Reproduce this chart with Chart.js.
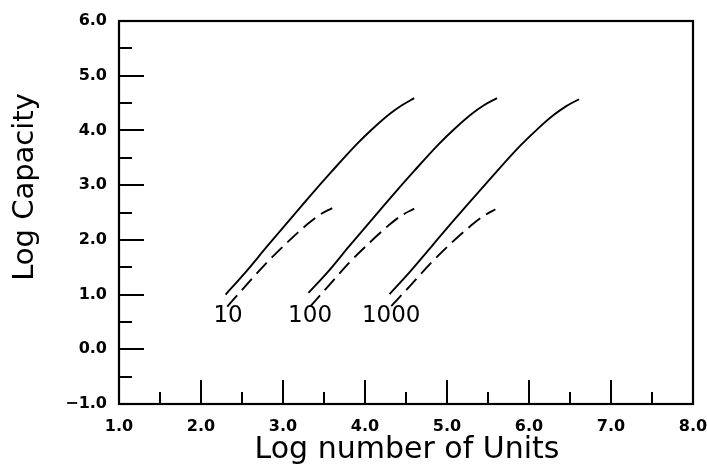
<!DOCTYPE html>
<html>
<head>
<meta charset="utf-8">
<style>
  html, body { margin: 0; padding: 0; background: #fff; }
  #chart { display: block; }
</style>
<script src="https://cdn.jsdelivr.net/npm/chart.js@4/dist/chart.umd.min.js"></script>
</head>
<body>
<canvas id="chart" width="707" height="467"></canvas>
<script>
// log number of units (x) and log capacity (y)
const solid10X = [2.3, 2.55, 2.8, 3.05, 3.3, 3.6, 3.9, 4.1, 4.3, 4.45, 4.6];
const solid10Y = [1.0, 1.42, 1.87, 2.31, 2.75, 3.26, 3.75, 4.04, 4.3, 4.46, 4.59];
const dashed10X = [2.32, 2.55, 2.8, 3.05, 3.3, 3.45, 3.6];
const dashed10Y = [0.78, 1.17, 1.58, 1.95, 2.29, 2.46, 2.58];

const solid100X = [3.31, 3.55, 3.8, 4.05, 4.3, 4.6, 4.9, 5.1, 5.3, 5.45, 5.61];
const solid100Y = [1.03, 1.42, 1.87, 2.31, 2.75, 3.26, 3.75, 4.04, 4.3, 4.46, 4.59];
const dashed100X = [3.33, 3.55, 3.8, 4.05, 4.3, 4.45, 4.6];
const dashed100Y = [0.78, 1.15, 1.57, 1.94, 2.28, 2.45, 2.57];

const solid1000X = [4.3, 4.55, 4.8, 5.05, 5.3, 5.6, 5.9, 6.1, 6.3, 6.45, 6.61];
const solid1000Y = [1.01, 1.42, 1.86, 2.3, 2.73, 3.24, 3.73, 4.02, 4.28, 4.44, 4.57];
const dashed1000X = [4.32, 4.55, 4.8, 5.05, 5.3, 5.45, 5.59];
const dashed1000Y = [0.79, 1.16, 1.57, 1.94, 2.27, 2.44, 2.56];

// curve labels: text and where they sit (data units)
const curveLabels = ['10', '100', '1000'];
const curveLabelX = [2.33, 3.33, 4.32];
const curveLabelY = [0.61, 0.61, 0.61];

const xTitle = 'Log number of Units';
const yTitle = 'Log Capacity';

const FONT = '"DejaVu Sans", sans-serif';

const toPoints = (xs, ys) => xs.map((x, i) => ({ x, y: ys[i] }));

const curve = (xs, ys, dashed) => ({
  data: toPoints(xs, ys),
  showLine: true,
  borderColor: '#000',
  borderWidth: 1.9,
  borderDash: dashed ? [15, 7] : [],
  pointRadius: 0,
  cubicInterpolationMode: 'monotone',
});

const frame = {
  id: 'frame',
  afterDraw(chart) {
    const { ctx, chartArea: a, scales } = chart;
    const { x, y } = scales;
    ctx.save();
    ctx.strokeStyle = '#000';
    ctx.lineWidth = 2.2;
    ctx.strokeRect(a.left, a.top, a.right - a.left, a.bottom - a.top);

    // inward ticks: majors on whole numbers, minors on halves
    ctx.lineWidth = 2;
    ctx.beginPath();
    for (let v = -0.5; v <= 6; v += 0.5) {
      const py = Math.round(y.getPixelForValue(v));
      const len = Number.isInteger(v) ? 25 : 13;
      ctx.moveTo(a.left, py);
      ctx.lineTo(a.left + len, py);
    }
    for (let v = 1.5; v < 8; v += 0.5) {
      const px = Math.round(x.getPixelForValue(v));
      const len = Number.isInteger(v) ? 24 : 12;
      ctx.moveTo(px, a.bottom);
      ctx.lineTo(px, a.bottom - len);
    }
    ctx.stroke();

    // curve labels
    ctx.fillStyle = '#000';
    ctx.font = `23px ${FONT}`;
    ctx.textAlign = 'center';
    ctx.textBaseline = 'middle';
    curveLabels.forEach((t, i) => {
      ctx.fillText(t, x.getPixelForValue(curveLabelX[i]), y.getPixelForValue(curveLabelY[i]));
    });

    // axis titles
    ctx.font = `30px ${FONT}`;
    ctx.textBaseline = 'alphabetic';
    ctx.fillText(xTitle, (a.left + a.right) / 2 + 1, 458);
    ctx.translate(33, 187);
    ctx.rotate(-Math.PI / 2);
    ctx.font = `29px ${FONT}`;
    ctx.fillText(yTitle, 0, 0);
    ctx.restore();
  },
};

const fmt = (v) => (v < 0 ? '\u2212' + Math.abs(v).toFixed(1) : v.toFixed(1));

new Chart(document.getElementById('chart'), {
  type: 'scatter',
  data: {
    datasets: [
      curve(solid10X, solid10Y, false),
      curve(dashed10X, dashed10Y, true),
      curve(solid100X, solid100Y, false),
      curve(dashed100X, dashed100Y, true),
      curve(solid1000X, solid1000Y, false),
      curve(dashed1000X, dashed1000Y, true),
    ],
  },
  options: {
    responsive: false,
    animation: false,
    devicePixelRatio: 1,
    layout: {
      padding: { top: 21, right: 14, left: 0, bottom: 0 },
    },
    plugins: {
      legend: { display: false },
      tooltip: { enabled: false },
    },
    scales: {
      x: {
        type: 'linear',
        min: 1,
        max: 8,
        grid: { display: false, drawTicks: false },
        border: { display: false },
        ticks: {
          stepSize: 1,
          padding: 13,
          maxRotation: 0,
          autoSkip: false,
          color: '#000',
          font: { family: FONT, size: 16, weight: 'bold' },
          callback: fmt,
        },
        afterFit(scale) {
          scale.height = 63;
          scale.paddingLeft = 0;
          scale.paddingRight = 0;
        },
      },
      y: {
        type: 'linear',
        min: -1,
        max: 6,
        grid: { display: false, drawTicks: false },
        border: { display: false },
        ticks: {
          stepSize: 1,
          padding: 12,
          autoSkip: false,
          color: '#000',
          font: { family: FONT, size: 16, weight: 'bold' },
          callback: fmt,
        },
        afterFit(scale) {
          scale.width = 119;
          scale.paddingTop = 0;
          scale.paddingBottom = 0;
        },
      },
    },
  },
  plugins: [frame],
});
</script>
</body>
</html>
